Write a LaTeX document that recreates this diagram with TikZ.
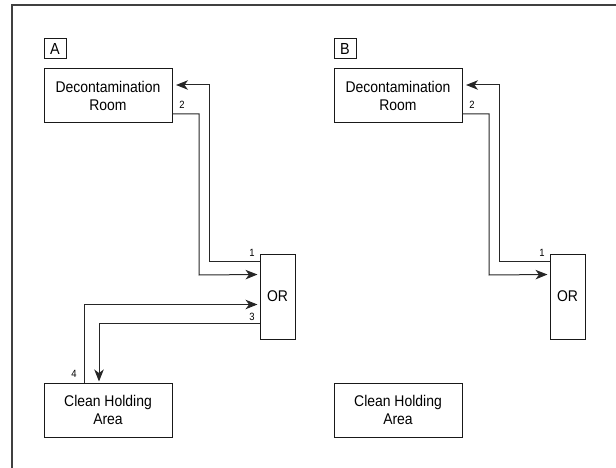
\documentclass[tikz,border=0pt]{standalone}
\usepackage{fontspec}
\setmainfont{Liberation Sans}[FakeStretch=0.9]
\usetikzlibrary{arrows.meta}
\tikzset{
  box/.style={draw=black!90, line width=1pt, rectangle, inner sep=0pt, align=center, font=\fontsize{15.5}{18.5}\selectfont},
  tag/.style={draw=black!90, line width=1pt, rectangle, inner sep=0pt, minimum width=22pt, minimum height=20pt, font=\fontsize{16}{18}\selectfont},
  num/.style={inner sep=0pt, font=\fontsize{10.5}{12}\selectfont},
  conn/.style={draw=black!85, line width=1pt},
  arr/.style={conn, -{Stealth[length=12pt,width=9.5pt,inset=3.5pt]}},
  frame/.style={draw=black!75, line width=1.5pt}
}
\begin{document}
\begin{tikzpicture}[x=1pt,y=-1pt]
\useasboundingbox (0,0) rectangle (616,468);
% open frame
\coordinate (ftl) at (12,5);
\coordinate (ftr) at (616,5);
\coordinate (fbl) at (12,468);
\draw[frame] (fbl) -- (ftl) -- (ftr);

% ---------- Panel A ----------
\node[tag] (tagA) at (55,49) {A};
\node[box, minimum width=128pt, minimum height=54pt] (deconA) at (108,96) {Decontamination\\Room};
\node[box, minimum width=128pt, minimum height=54pt] (cleanA) at (108,410) {Clean Holding\\Area};
\node[box, minimum width=35pt, minimum height=85pt] (orA) at (277.5,296.5) {OR};

% 1: OR -> Decon
\draw[arr, shorten >=3.5pt] ([yshift=-8pt]orA.north west) -| (209,85) -- ([yshift=11pt]deconA.east);
% 2: Decon -> OR
\draw[arr, shorten >=2pt] ([yshift=-18pt]deconA.east) -| (199,275) -- ([yshift=-21pt]orA.north west);
% 3: OR -> Clean
\draw[arr, shorten >=1pt] ([yshift=-70pt]orA.north west) -| ([xshift=-9pt]cleanA.north);
% 4: Clean -> OR
\draw[arr, shorten >=2pt] ([xshift=-24pt]cleanA.north) |- ([yshift=-51pt]orA.north west);

\node[num] (n2A) at (182,105) {2};
\node[num] (n1A) at (252,253) {1};
\node[num] (n3A) at (252,317) {3};
\node[num] (n4A) at (74,374) {4};

% ---------- Panel B ----------
\node[tag] (tagB) at (345,49) {B};
\node[box, minimum width=128pt, minimum height=54pt] (deconB) at (398,96) {Decontamination\\Room};
\node[box, minimum width=128pt, minimum height=54pt] (cleanB) at (398,410) {Clean Holding\\Area};
\node[box, minimum width=35pt, minimum height=85pt] (orB) at (567.5,296.5) {OR};

\draw[arr, shorten >=3.5pt] ([yshift=-8pt]orB.north west) -| (499,85) -- ([yshift=11pt]deconB.east);
\draw[arr, shorten >=2pt] ([yshift=-18pt]deconB.east) -| (489,275) -- ([yshift=-21pt]orB.north west);

\node[num] (n2B) at (472,105) {2};
\node[num] (n1B) at (542,253) {1};
\end{tikzpicture}
\end{document}
